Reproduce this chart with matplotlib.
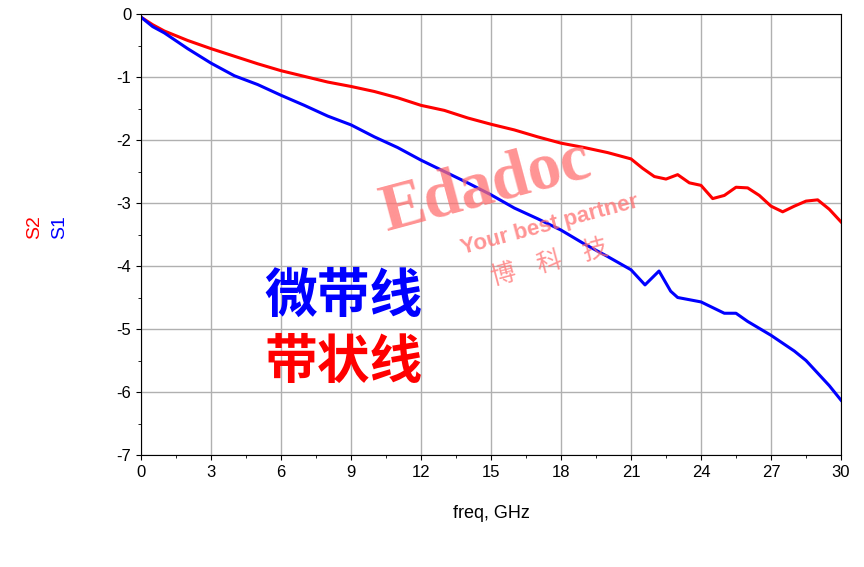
import matplotlib
matplotlib.use("Agg")
import matplotlib.pyplot as plt
import numpy as np

freq_s2 = [0, 0.5, 1, 2, 3, 4, 5, 6, 7, 8, 9, 10, 11, 12, 13, 14, 15, 16, 17, 18, 19, 20, 21, 21.5, 22, 22.5, 23, 23.5, 24, 24.5, 25, 25.5, 26, 26.5, 27, 27.5, 28, 28.5, 29, 29.5, 30]
s2 = [-0.05, -0.17, -0.27, -0.42, -0.55, -0.67, -0.79, -0.9, -0.99, -1.08, -1.15, -1.23, -1.33, -1.45, -1.53, -1.65, -1.75, -1.84, -1.95, -2.05, -2.12, -2.2, -2.3, -2.45, -2.58, -2.62, -2.55, -2.68, -2.72, -2.93, -2.88, -2.75, -2.76, -2.88, -3.05, -3.14, -3.05, -2.97, -2.95, -3.1, -3.3]
freq_s1 = [0, 0.5, 1, 2, 3, 4, 5, 6, 7, 8, 9, 10, 11, 12, 13, 14, 15, 16, 17, 18, 19, 20, 21, 21.6, 22.2, 22.7, 23, 24, 25, 25.5, 26, 27, 28, 28.5, 29, 29.5, 30]
s1 = [-0.05, -0.2, -0.3, -0.55, -0.78, -0.98, -1.12, -1.29, -1.45, -1.62, -1.76, -1.95, -2.12, -2.32, -2.5, -2.68, -2.87, -3.08, -3.25, -3.43, -3.65, -3.85, -4.06, -4.3, -4.08, -4.4, -4.5, -4.57, -4.75, -4.75, -4.88, -5.1, -5.35, -5.5, -5.7, -5.9, -6.13]

plt.rcParams['font.family'] = ['Liberation Sans', 'Noto Sans CJK SC', 'DejaVu Sans']
plt.rcParams['axes.unicode_minus'] = False
fig = plt.figure(figsize=(8.64, 5.67), dpi=100)
ax = fig.add_axes([141/864, 1-455/567, 700/864, 441/567])
ax.plot(freq_s2, s2, color='#ff0000', lw=2.2)
ax.plot(freq_s1, s1, color='#0000ff', lw=2.2)
ax.set_xlim(0, 30); ax.set_ylim(-7, 0)
ax.set_xticks(range(0, 31, 3)); ax.set_yticks(range(-7, 1))
ax.set_xticks(np.arange(0, 30.1, 1.5), minor=True)
ax.set_yticks(np.arange(-7, 0, 0.5), minor=True)
ax.grid(True, which='major', color='#b0b0b0', lw=1)
ax.tick_params(labelsize=12)
ax.set_xlabel('freq, GHz', fontsize=13, labelpad=18)
fig.text(35/864, 0.6, 'S2', color='red', rotation=90, fontsize=14, ha='center', va='center')
fig.text(60/864, 0.6, 'S1', color='blue', rotation=90, fontsize=14, ha='center', va='center')
ax.text(5.3, -4.5, '微带线', color='blue', fontsize=38, fontweight='bold', va='center')
ax.text(5.3, -5.55, '带状线', color='red', fontsize=38, fontweight='bold', va='center')
ax.text(14.8, -2.75, 'Edadoc', color='#ff7070', alpha=0.75, fontsize=48, fontweight='bold', rotation=15, ha='center', va='center', family='Liberation Serif')
ax.text(17.5, -3.35, 'Your best partner', color='#ff7070', alpha=0.75, fontsize=16, fontweight='bold', rotation=15, ha='center', va='center')
ax.text(17.5, -3.95, '博    科    技', color='#ff7070', alpha=0.75, fontsize=18, rotation=15, ha='center', va='center', family=['Noto Sans CJK SC'])
fig.savefig('out.png')
